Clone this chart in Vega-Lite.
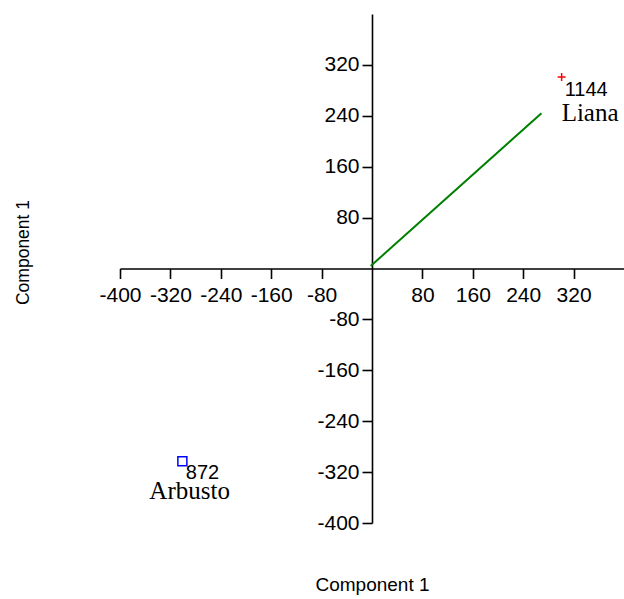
{
  "$schema": "https://vega.github.io/schema/vega-lite/v6.json",
  "width": 504,
  "height": 509,
  "autosize": {"type": "none"},
  "padding": {"left": 120, "top": 14, "right": 0, "bottom": 76},
  "background": "white",
  "config": {
    "view": {"stroke": null},
    "axis": {
      "grid": false,
      "domainColor": "black",
      "tickColor": "black",
      "labelColor": "black",
      "titleColor": "black",
      "labelFont": "Liberation Sans",
      "titleFont": "Liberation Sans",
      "titleFontWeight": "normal",
      "domainWidth": 1.6,
      "tickWidth": 1.6,
      "tickSize": 10,
      "labelFontSize": 21,
      "titleFontSize": 19,
      "labelOverlap": false,
      "labelFlush": false,
      "labelExpr": "datum.value < 0 ? '-' + abs(datum.value) : '' + datum.value"
    }
  },
  "datasets": {
    "scores": [
      {"group": "Liana", "id": "1144", "x": 301, "y": 301},
      {"group": "Arbusto", "id": "872", "x": -301, "y": -303}
    ],
    "loading": [
      {"x": -2, "y": 4, "o": 0},
      {"x": 269, "y": 244, "o": 1}
    ]
  },
  "encoding": {
    "x": {
      "field": "x",
      "type": "quantitative",
      "scale": {"domain": [-400, 400], "nice": false, "zero": false},
      "axis": {
        "title": "Component 1",
        "values": [-400, -320, -240, -160, -80, 80, 160, 240, 320],
        "offset": -254.5,
        "labelPadding": 6,
        "titleX": 252,
        "titleY": 307,
        "titleBaseline": "top"
      }
    },
    "y": {
      "field": "y",
      "type": "quantitative",
      "scale": {"domain": [-400, 400], "nice": false, "zero": false},
      "axis": {
        "title": "Component 1",
        "values": [-400, -320, -240, -160, -80, 80, 160, 240, 320],
        "offset": -252,
        "labelPadding": 3,
        "titleX": -349,
        "titleY": 238,
        "titleFontSize": 17.5,
        "titleBaseline": "middle"
      }
    }
  },
  "layer": [
    {
      "data": {"name": "loading"},
      "mark": {"type": "line", "color": "#008000", "strokeWidth": 2},
      "encoding": {"order": {"field": "o", "type": "quantitative"}}
    },
    {
      "data": {"name": "scores"},
      "transform": [{"filter": "datum.group === 'Liana'"}],
      "mark": {"type": "point", "shape": "M-1,0H1M0,-1V1", "filled": false, "color": "#FF0000", "strokeWidth": 1.5, "size": 64, "opacity": 1}
    },
    {
      "data": {"name": "scores"},
      "transform": [{"filter": "datum.group === 'Arbusto'"}],
      "mark": {"type": "point", "shape": "square", "filled": false, "color": "#0000FF", "strokeWidth": 1.5, "size": 81, "opacity": 1}
    },
    {
      "data": {"name": "scores"},
      "transform": [{"filter": "datum.group === 'Liana'"}],
      "mark": {"type": "text", "align": "left", "baseline": "alphabetic", "dx": 3, "dy": 19, "font": "Liberation Sans", "fontSize": 20, "color": "black"},
      "encoding": {"text": {"field": "id"}}
    },
    {
      "data": {"name": "scores"},
      "transform": [{"filter": "datum.group === 'Liana'"}],
      "mark": {"type": "text", "align": "left", "baseline": "alphabetic", "dx": 0, "dy": 44, "font": "Liberation Serif", "fontSize": 25, "color": "black"},
      "encoding": {"text": {"field": "group"}}
    },
    {
      "data": {"name": "scores"},
      "transform": [{"filter": "datum.group === 'Arbusto'"}],
      "mark": {"type": "text", "align": "left", "baseline": "alphabetic", "dx": 3.5, "dy": 17.5, "font": "Liberation Sans", "fontSize": 20, "color": "black"},
      "encoding": {"text": {"field": "id"}}
    },
    {
      "data": {"name": "scores"},
      "transform": [{"filter": "datum.group === 'Arbusto'"}],
      "mark": {"type": "text", "align": "left", "baseline": "alphabetic", "dx": -33, "dy": 37.5, "font": "Liberation Serif", "fontSize": 25, "color": "black"},
      "encoding": {"text": {"field": "group"}}
    }
  ]
}
